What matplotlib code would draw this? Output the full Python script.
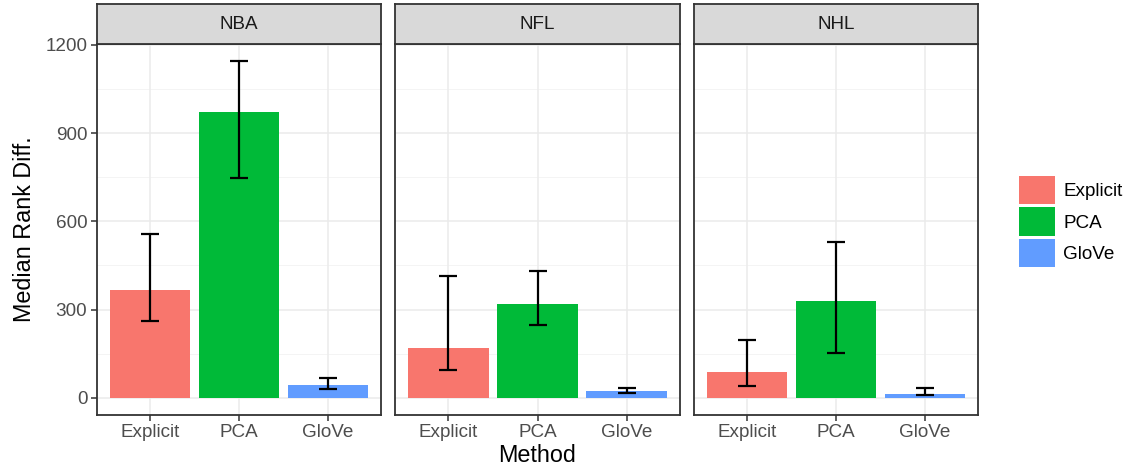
import numpy as np
import matplotlib
matplotlib.use("Agg")
import matplotlib.pyplot as plt
from matplotlib.patches import Patch

plt.rcParams['font.family'] = ['Liberation Sans', 'DejaVu Sans']

# data
leagues = ['NBA', 'NFL', 'NHL']
methods = ['Explicit', 'PCA', 'GloVe']
colors = ['#F8766D', '#00BA38', '#619CFF']

median_nba = [365, 972, 45]
low_nba = [260, 747, 31]
high_nba = [556, 1144, 68]

median_nfl = [170, 318, 25]
low_nfl = [96, 247, 18]
high_nfl = [414, 431, 33]

median_nhl = [87, 328, 14]
low_nhl = [40, 152, 10]
high_nhl = [198, 531, 35]

medians = [median_nba, median_nfl, median_nhl]
lows = [low_nba, low_nfl, low_nhl]
highs = [high_nba, high_nfl, high_nhl]

yticks = [0, 300, 600, 900, 1200]
yminor = [150, 450, 750, 1050]

W, H = 1131, 475
fig = plt.figure(figsize=(W / 100, H / 100), dpi=100)

panel_x = [(97, 381), (395, 680), (694, 978)]
plot_top, plot_bot, strip_top = 44.3, 414.7, 4
dark = '#333333'
tick_fs = 13.6
x = np.arange(1, 4)

for i, lg in enumerate(leagues):
    x0, x1 = panel_x[i]
    ax = fig.add_axes([x0 / W, 1 - plot_bot / H, (x1 - x0) / W, (plot_bot - plot_top) / H])
    ax.set_axisbelow(True)
    for v in yticks:
        ax.axhline(v, color='#EBEBEB', lw=1.1, zorder=0)
    for v in yminor:
        ax.axhline(v, color='#F2F2F2', lw=0.6, zorder=0)
    for v in x:
        ax.axvline(v, color='#EBEBEB', lw=1.1, zorder=0)
    ax.bar(x, medians[i], width=0.9, color=colors, zorder=2)
    m = np.array(medians[i])
    err = [m - np.array(lows[i]), np.array(highs[i]) - m]
    ax.errorbar(x, m, yerr=err, fmt='none', ecolor='black', elinewidth=1.6,
                capsize=6.5, capthick=1.6, zorder=3)
    ax.set_xlim(0.4, 3.6)
    ax.set_ylim(-57.2, 1201.4)
    ax.set_xticks(x)
    ax.set_xticklabels(methods, fontsize=tick_fs, color='#4D4D4D')
    ax.set_yticks(yticks)
    if i == 0:
        ax.set_yticklabels([str(v) for v in yticks], fontsize=tick_fs, color='#4D4D4D')
        ax.tick_params(axis='y', length=4, width=1.1, color=dark, pad=3)
        ax.set_ylabel('Median Rank Diff.', fontsize=16.8, labelpad=7)
    else:
        ax.tick_params(axis='y', left=False, labelleft=False)
    ax.tick_params(axis='x', length=4, width=1.1, color=dark, pad=3)
    if i == 1:
        ax.set_xlabel('Method', fontsize=16.8, labelpad=2)
    for s in ax.spines.values():
        s.set_color(dark)
        s.set_linewidth(1.3)

    # strip
    sax = fig.add_axes([x0 / W, 1 - plot_top / H, (x1 - x0) / W, (plot_top - strip_top) / H])
    sax.set_facecolor('#D9D9D9')
    sax.set_xticks([])
    sax.set_yticks([])
    for s in sax.spines.values():
        s.set_color(dark)
        s.set_linewidth(1.3)
    sax.text(0.5, 0.5, lg, ha='center', va='center', fontsize=tick_fs, color='#1A1A1A',
             transform=sax.transAxes)

handles = [Patch(facecolor=c, edgecolor='none') for c in colors]
fig.legend(handles, methods, loc='upper left', bbox_to_anchor=(1019 / W, 1 - 176 / H),
           frameon=False, fontsize=tick_fs, handlelength=1.93, handleheight=1.93,
           labelspacing=0.16, handletextpad=0.42, borderpad=0, borderaxespad=0)

fig.savefig('out.png', dpi=100)
